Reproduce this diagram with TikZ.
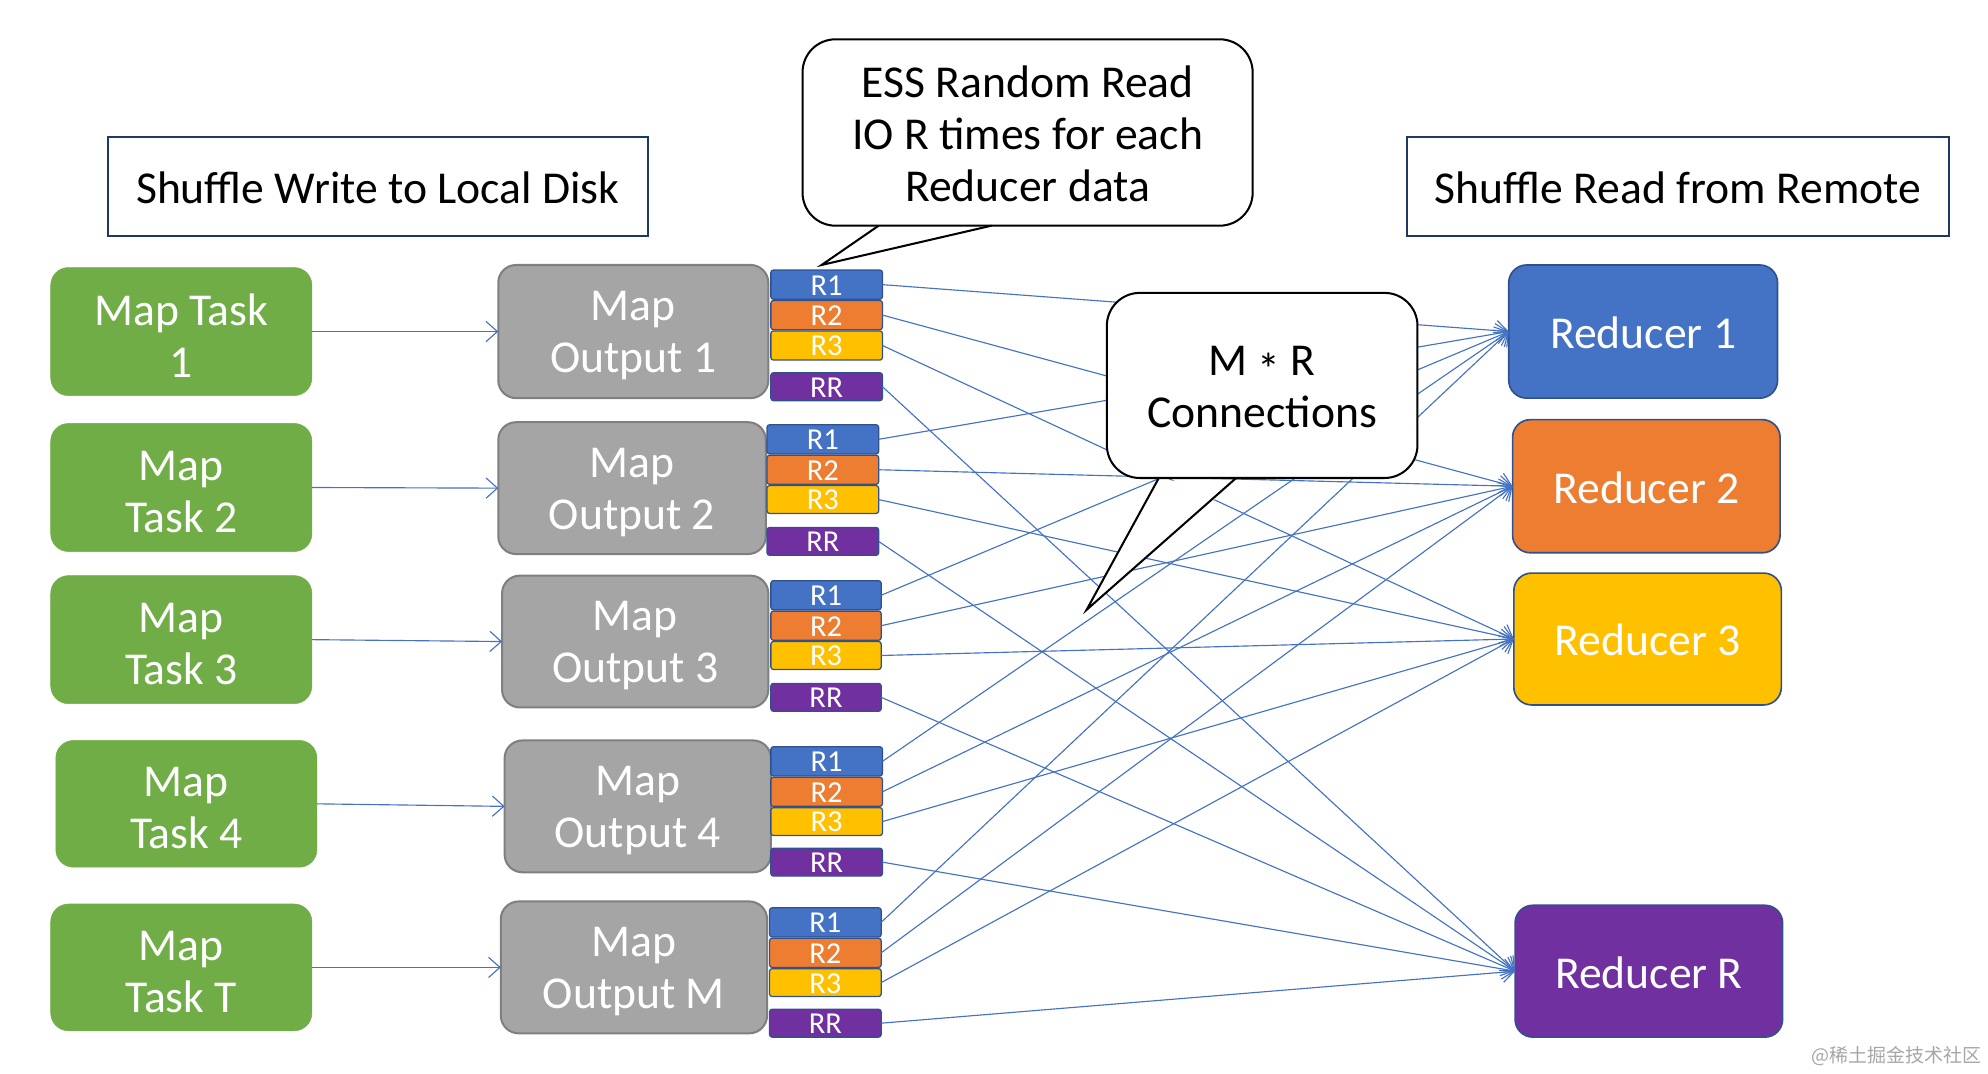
\documentclass[tikz,border=0pt]{standalone}
\usepackage{fontspec}
\setmainfont{Carlito}
\newfontfamily\cjk{Noto Sans CJK SC}
\usetikzlibrary{arrows.meta}
\definecolor{cgreen}{HTML}{70AD47}
\definecolor{cgray}{HTML}{A5A5A5}
\definecolor{cgrayb}{HTML}{7F7F7F}
\definecolor{cblue}{HTML}{4472C4}
\definecolor{cblueb}{HTML}{2F528F}
\definecolor{corange}{HTML}{ED7D31}
\definecolor{cyellow}{HTML}{FFC000}
\definecolor{cpurple}{HTML}{7030A0}
\definecolor{cnavy}{HTML}{203864}
\tikzset{tdy/.store in=\tdyval, tdy=0pt}
\newcommand\bx[7]{%
  \pgfmathsetmacro\bxcx{(#3+#5)/2}%
  \pgfmathsetmacro\bxcy{(#4+#6)/2}%
  \pgfmathsetmacro\bxw{#5-#3}%
  \pgfmathsetmacro\bxh{#6-#4}%
  \node[#1,minimum width=\bxw pt,minimum height=\bxh pt] (#2) at (\bxcx,\bxcy) {};
  \node[#1,draw=none,fill=none,minimum width=0pt,minimum height=0pt,yshift=-\tdyval] (#2txt) at (#2.center) {#7};}
\tikzset{
  big/.style={font=\fontsize{36}{41}\selectfont},
  task/.style={big, fill=cgreen, draw=cgreen, rounded corners=14pt, text=white, align=center, inner sep=0pt, outer sep=0pt, tdy=3.5pt},
  mout/.style={big, fill=cgray, draw=cgrayb, line width=1.6pt, rounded corners=14pt, text=white, align=center, inner sep=0pt, outer sep=0pt, tdy=3.5pt},
  rblk/.style={draw=cblueb, line width=1pt, rounded corners=2pt, text=white, font=\fontsize{24}{24}\selectfont, inner sep=0pt, outer sep=0pt, tdy=0.5pt},
  redu/.style={big, draw=cblueb, line width=1.3pt, rounded corners=14pt, text=white, align=center, inner sep=0pt, outer sep=0pt, tdy=1pt},
  title/.style={big, draw=cnavy, line width=1.6pt, inner sep=0pt, outer sep=0pt, tdy=1pt},
  callout/.style={big, draw=black, fill=white, line width=1.6pt, rounded corners=26pt, align=center, inner sep=0pt, outer sep=0pt, tdy=1pt},
  conn/.style={draw=cblue, line width=0.9pt, -{Straight Barb[length=9pt,width=16pt]}},
}
\begin{document}
\begin{tikzpicture}[x=1pt,y=-1pt]
\useasboundingbox (0,0) rectangle (1568,847);
% titles
\bx{title}{tw}{85}{108}{511}{186}{Shuffle Write to Local Disk}
\bx{title}{tr}{1110}{108}{1537}{186}{Shuffle Read from Remote}
% map tasks
\bx{task}{t1}{40}{211}{246}{312}{Map Task\\1}
\bx{task}{t2}{40}{334}{246}{435}{Map\\Task 2}
\bx{task}{t3}{40}{454}{246}{555}{Map\\Task 3}
\bx{task}{t4}{44}{584}{250}{684}{Map\\Task 4}
\bx{task}{t5}{40}{713}{246}{813}{Map\\Task T}
% map outputs
\bx{mout}{o1}{393}{209}{606}{314}{Map\\Output 1}
\bx{mout}{o2}{393}{333}{604}{437}{Map\\Output 2}
\bx{mout}{o3}{396}{454}{606}{558}{Map\\Output 3}
\bx{mout}{o4}{398}{584}{608}{688}{Map\\Output 4}
\bx{mout}{o5}{395}{711}{605}{815}{Map\\Output M}
% partition blocks
\bx{rblk,fill=cblue}{o1a}{608}{213}{696}{236}{R1}
\bx{rblk,fill=corange}{o1b}{608}{237}{696}{260}{R2}
\bx{rblk,fill=cyellow}{o1c}{608}{261}{696}{284}{R3}
\bx{rblk,fill=cpurple}{o1d}{608}{294}{696}{316}{RR}
\bx{rblk,fill=cblue}{o2a}{605}{335}{693}{358}{R1}
\bx{rblk,fill=corange}{o2b}{605}{359}{693}{382}{R2}
\bx{rblk,fill=cyellow}{o2c}{605}{383}{693}{405}{R3}
\bx{rblk,fill=cpurple}{o2d}{605}{416}{693}{438}{RR}
\bx{rblk,fill=cblue}{o3a}{608}{458}{695}{481}{R1}
\bx{rblk,fill=corange}{o3b}{608}{482}{695}{505}{R2}
\bx{rblk,fill=cyellow}{o3c}{608}{506}{695}{528}{R3}
\bx{rblk,fill=cpurple}{o3d}{608}{539}{695}{561}{RR}
\bx{rblk,fill=cblue}{o4a}{608}{589}{696}{612}{R1}
\bx{rblk,fill=corange}{o4b}{608}{613}{696}{636}{R2}
\bx{rblk,fill=cyellow}{o4c}{608}{637}{696}{659}{R3}
\bx{rblk,fill=cpurple}{o4d}{608}{669}{696}{691}{RR}
\bx{rblk,fill=cblue}{o5a}{607}{716}{695}{739}{R1}
\bx{rblk,fill=corange}{o5b}{607}{740}{695}{763}{R2}
\bx{rblk,fill=cyellow}{o5c}{607}{764}{695}{786}{R3}
\bx{rblk,fill=cpurple}{o5d}{607}{796}{695}{818}{RR}
% reducers
\bx{redu,fill=cblue}{ra}{1190}{209}{1402}{314}{Reducer 1}
\bx{redu,fill=corange}{rb}{1193}{331}{1404}{436}{Reducer 2}
\bx{redu,fill=cyellow}{rc}{1194}{452}{1405}{556}{Reducer 3}
\bx{redu,fill=cpurple}{rd}{1195}{714}{1406}{818}{Reducer R}
% task -> output
\draw[conn] (t1.east) -- (o1.west);
\draw[conn] (t2.east) -- (o2.west);
\draw[conn] (t3.east) -- (o3.west);
\draw[conn] (t4.east) -- (o4.west);
\draw[conn] (t5.east) -- (o5.west);
% partitions -> reducers
\foreach \o in {o1,o2,o3,o4,o5}{
  \draw[conn] (\o a.east) -- (ra.west);
  \draw[conn] (\o b.east) -- (rb.west);
  \draw[conn] (\o c.east) -- (rc.west);
  \draw[conn] (\o d.east) -- (rd.west);
}
% ESS callout
\bx{callout}{ess}{633}{31}{988}{178}{ESS Random Read\\IO R times for each\\Reducer data}
\coordinate (essL) at (693,178);
\coordinate (essR) at (782,178);
\coordinate (essT) at (648,209);
\fill[white] ([yshift=-2pt]essL) -- (essT) -- ([yshift=-2pt]essR) -- cycle;
\draw[line width=1.6pt,line join=miter] (essL) -- (essT) -- (essR);
% M*R callout
\bx{callout}{mr}{873}{231}{1118}{377}{M \raisebox{-0.22em}{*} R\\Connections}
\coordinate (mrL) at (914,377);
\coordinate (mrR) at (975,377);
\coordinate (mrT) at (857,481);
\fill[white] ([yshift=-2pt]mrL) -- (mrT) -- ([yshift=-2pt]mrR) -- cycle;
\draw[line width=1.6pt,line join=miter] (mrL) -- (mrT) -- (mrR);
% watermark
\node[text=gray!70, font=\cjk\fontsize{15}{15}\selectfont, anchor=east, inner sep=0pt] (wm) at (1563,833) {@稀土掘金技术社区};
\end{tikzpicture}
\end{document}
